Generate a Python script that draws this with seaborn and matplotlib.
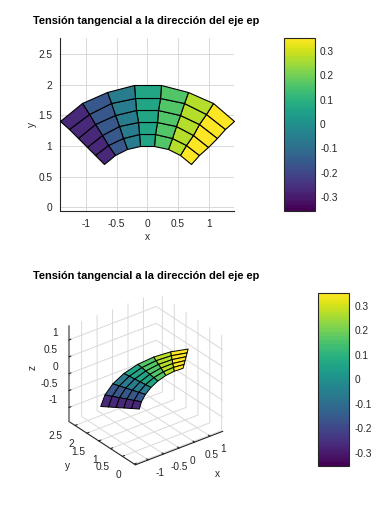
import numpy as np
import seaborn as sns
import matplotlib
matplotlib.use('Agg')
import matplotlib.pyplot as plt
from matplotlib.colors import ListedColormap, Normalize
from matplotlib.cm import ScalarMappable
from mpl_toolkits.mplot3d import proj3d

radios = [1.0, 1.2, 1.4, 1.6, 1.8, 2.0]
angulos = [45.0, 57.86, 70.71, 83.57, 96.43, 109.29, 122.14, 135.0]
tension = [0.354, 0.266, 0.165, 0.056, -0.056, -0.165, -0.266, -0.354]
xticks = [-1, -0.5, 0, 0.5, 1]
yticks = [0, 0.5, 1, 1.5, 2, 2.5]
zticks = [-1, -0.5, 0, 0.5, 1]
cticks = [-0.3, -0.2, -0.1, 0, 0.1, 0.2, 0.3]
titulo = 'Tensión tangencial a la dirección del eje ep'

sns.set_style('white')
plt.rcParams['font.family'] = ['Liberation Sans', 'DejaVu Sans']
plt.rcParams['font.size'] = 7.3
gris = '#262626'

W, H = 382, 512
def rect(x0, y0, x1, y1):
    return [x0 / W, 1 - y1 / H, (x1 - x0) / W, (y1 - y0) / H]

def fmt(v):
    return f'{v:g}'

viridis = sns.color_palette('viridis', as_cmap=True)
cmap = ListedColormap(viridis(np.linspace(0, 1, 64)))
norm = Normalize(min(tension), max(tension))

th, rr = np.meshgrid(np.radians(angulos), radios)
X = rr * np.cos(th)
Y = rr * np.sin(th)
Z = np.tile(tension, (len(radios), 1))
C = Z[:-1, :-1]

fig = plt.figure(figsize=(W / 100, H / 100), dpi=100)

# vista 2D
ax = fig.add_axes(rect(60.5, 38, 234, 210.5))
ax.pcolormesh(X, Y, C, cmap=cmap, norm=norm, edgecolors='black', linewidth=0.8, zorder=3,
              antialiased=True, clip_on=False)
ax.set_xlim(-1.414, 1.414)
ax.set_ylim(-0.05, 2.76)
ax.set_xticks(xticks, [fmt(v) for v in xticks])
ax.set_yticks(yticks, [fmt(v) for v in yticks])
ax.grid(True, color='#d9d9d9', linewidth=0.7)
ax.set_axisbelow(True)
ax.tick_params(direction='in', length=3, width=0.7, color=gris, labelcolor=gris, pad=6)
for lado in ['top', 'right']:
    ax.spines[lado].set_visible(False)
for lado in ['left', 'bottom']:
    ax.spines[lado].set_color(gris)
    ax.spines[lado].set_linewidth(0.8)
ax.set_xlabel('x', color=gris, labelpad=2)
ax.set_ylabel('y', color=gris, labelpad=1)
fig.text(33 / W, 1 - 21 / H, titulo, fontsize=7.9, fontweight='bold', color='black', va='center')

# vista 3D
ax3 = fig.add_axes(rect(38, 271.5, 248, 491.5), projection='3d')
ax3.set_proj_type('ortho')
ax3.view_init(elev=30, azim=-127.5)
ax3.plot_surface(X, Y, Z, facecolors=cmap(norm(C)), rstride=1, cstride=1, shade=False,
                 edgecolor='black', linewidth=0.7)
xmin, xmax = -1.414, 1.414
ymin, ymax = -0.05, 2.76
zmin, zmax = -1.414, 1.414
ax3.set_xlim(xmin, xmax)
ax3.set_ylim(ymin, ymax)
ax3.set_zlim(zmin, zmax)
ax3.set_box_aspect((2.83, 2.81, 2.83), zoom=0.88)
ax3.set_xticks(xticks, [''] * len(xticks))
ax3.set_yticks(yticks, [''] * len(yticks))
ax3.set_zticks(zticks, [''] * len(zticks))
ax3.patch.set_alpha(0)
for eje in [ax3.xaxis, ax3.yaxis, ax3.zaxis]:
    eje.set_pane_color((1, 1, 1, 0))
    eje.pane.set_edgecolor((1, 1, 1, 0))
    eje._axinfo['grid']['color'] = '#d9d9d9'
    eje._axinfo['grid']['linewidth'] = 0.7
    eje._axinfo['tick']['inward_factor'] = 0.0
    eje._axinfo['tick']['outward_factor'] = 0.3
    eje.line.set_color(gris)
    eje.line.set_linewidth(0.8)
ax3.zaxis.line.set_color('#808080')
ax3.zaxis.line.set_linewidth(1.3)
ax3.tick_params(colors=gris)

# etiquetas 3D colocadas desde la proyeccion de cada marca
ax3.apply_aspect()
M = ax3.get_proj()
def etiqueta(punto, texto, dx, dy, ha):
    xs, ys, _ = proj3d.proj_transform(*punto, M)
    ax3.annotate(texto, xy=(xs, ys), xycoords='data', xytext=(dx, dy), textcoords='offset pixels',
                 ha=ha, va='center', color=gris, annotation_clip=False)

for v in xticks:
    etiqueta((v, ymin, zmin), fmt(v), 7 if v < 0 else 10, -13, 'left')
for v in yticks:
    etiqueta((xmin, v, zmin), fmt(v), -13, -11, 'right')
for v in zticks:
    etiqueta((xmin, ymax, v), fmt(v), -11, 7, 'right')
fig.text(217 / W, 1 - 474 / H, 'x', color=gris, ha='center', va='center')
fig.text(68 / W, 1 - 466 / H, 'y', color=gris, ha='center', va='center')
fig.text(33 / W, 1 - 367 / H, 'z', color=gris, ha='center', va='center', rotation=90)
fig.text(33 / W, 1 - 276 / H, titulo, fontsize=7.9, fontweight='bold', color='black', va='center')

# barras de color
for caja in [rect(283.5, 37.5, 314.5, 210.5), rect(317.7, 292.7, 349.3, 466)]:
    cax = fig.add_axes(caja)
    cb = fig.colorbar(ScalarMappable(norm=norm, cmap=cmap), cax=cax)
    cb.set_ticks(cticks, labels=[fmt(v) for v in cticks])
    cax.tick_params(axis='y', direction='in', length=2, width=0.6, color=gris,
                    labelcolor=gris, left=True, right=True, pad=4)
    cb.outline.set_edgecolor(gris)
    cb.outline.set_linewidth(0.8)

fig.savefig('out.png', dpi=100)
